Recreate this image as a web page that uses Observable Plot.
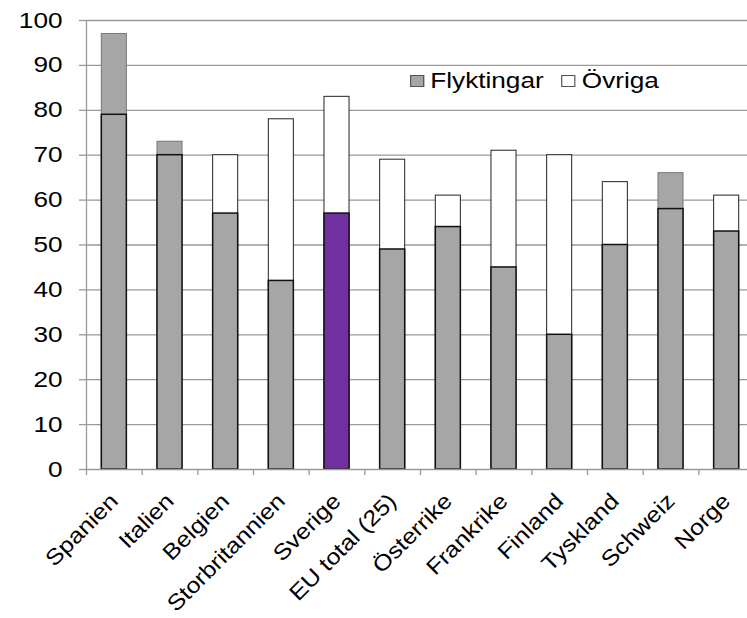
<!DOCTYPE html>
<html><head><meta charset="utf-8">
<script src="https://cdn.jsdelivr.net/npm/d3@7"></script>
<script src="https://cdn.jsdelivr.net/npm/@observablehq/plot@0.6"></script>
<style>
body{margin:0;background:#fff;font-family:"Liberation Sans",Arial,sans-serif}
#wrap{position:relative;width:747px;height:618px;overflow:hidden;background:#fff}
#legend{position:absolute;left:410px;top:68px;font-size:22px;color:#000;white-space:nowrap;transform:scaleX(1.19);transform-origin:left center;display:flex;align-items:center}
.sw{display:inline-block;width:10px;height:10px;border:1px solid #555;margin-right:5px}
.item{display:flex;align-items:center;margin-right:15px}
</style></head><body><div id="wrap"></div>
<script>
const countries = ["Spanien","Italien","Belgien","Storbritannien","Sverige","EU total (25)","Österrike","Frankrike","Finland","Tyskland","Schweiz","Norge"];
const flyktingar = [79,70,57,42,57,49,54,45,30,50,58,53];
const totalt = [97,73,70,78,83,69,61,71,70,64,66,61];
const yTicks = [0,10,20,30,40,50,60,70,80,90,100];
const highlight = "Sverige";
const grayTop = ["Spanien","Italien","Schweiz"];

const data = countries.map((c,i)=>({land:c, flykt:flyktingar[i], total:totalt[i]}));
const x0 = 86, x1 = 754;
const step = (x1-x0)/countries.length;

const chart = Plot.plot({
  width:747, height:618, marginLeft:86, marginRight:0, marginTop:20, marginBottom:149,
  style:{fontFamily:"Liberation Sans, Arial, sans-serif", fontSize:"22px", color:"black", background:"white", overflow:"hidden"},
  x:{domain:countries, range:[x0,x1], paddingInner:0.55, paddingOuter:0.275, align:0.5, round:false, label:null, axis:null},
  y:{domain:[0,100], ticks:yTicks, label:null, axis:null},
  marks:[
    Plot.ruleY(yTicks.filter(d=>d>0), {stroke:"#999", strokeWidth:1.3}),
    Plot.barY(data,{x:"land", y:"total", fill:d=>grayTop.includes(d.land)?"#a6a6a6":"white", stroke:d=>grayTop.includes(d.land)?"#777":"#222", strokeWidth:1}),
    Plot.barY(data,{x:"land", y:"flykt", fill:d=>d.land===highlight?"#7030a0":"#a6a6a6", stroke:"#111", strokeWidth:1.5}),
    Plot.ruleY([0], {stroke:"#999", strokeWidth:1.3}),
    Plot.ruleX([countries[0]], {dx:-step/2, y1:0, y2:100, stroke:"#999", strokeWidth:1.3}),
    Plot.ruleX(countries, {x:d=>d, dx:-step/2, y1:0, y2:-1.34, stroke:"#999", strokeWidth:1.3}),
    Plot.axisY(yTicks, {tickSize:7, text:null, stroke:"#999", strokeWidth:1.3}),
    Plot.axisY(yTicks, {tickSize:0, tickPadding:24, fontSize:22, fill:"black"}),
    Plot.text(countries, {x:d=>d, y:0, text:d=>d, rotate:-45, textAnchor:"end", lineAnchor:"bottom", dx:5, dy:33, fontSize:22, fill:"black"})
  ]
});

chart.querySelectorAll('g[aria-label="y-axis tick label"] text').forEach(t=>{
  const tr = t.getAttribute("transform") || "";
  t.setAttribute("transform", tr.replace(/^(translate\([^)]*\))/, "$1 scale(1.19,1)"));
});
chart.querySelectorAll('g[aria-label="text"] text').forEach(t=>{
  const tr = t.getAttribute("transform") || "";
  t.setAttribute("transform", tr + " scale(1.14,1)");
});

const wrap = document.getElementById("wrap");
wrap.appendChild(chart);
const legend = document.createElement("div");
legend.id = "legend";
legend.innerHTML = '<span class="item"><span class="sw" style="background:#a6a6a6"></span>Flyktingar</span><span class="item"><span class="sw" style="background:#fff"></span>Övriga</span>';
wrap.appendChild(legend);
</script></body></html>
